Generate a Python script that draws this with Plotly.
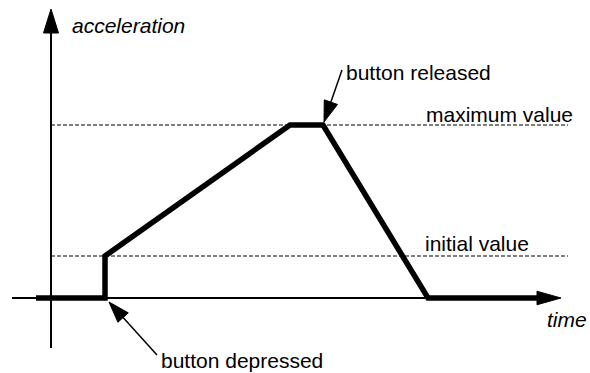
import plotly.graph_objects as go

# acceleration profile (arbitrary units, 1 unit = 10 px in both directions)
time_pts = [-1.5, 5.4, 5.4, 23.9, 27.2, 37.7, 49.0]
accel_pts = [0.0, 0.0, 4.2, 17.3, 17.3, 0.0, 0.0]

initial_value = 4.2
maximum_value = 17.3
ref_line_end = 51.7

x_axis_span = [-3.9, 51.0]   # start, arrow tip
y_axis_span = [-5.0, 28.9]   # bottom, arrow tip

# pointer arrows: (tail_t, tail_a, tip_t, tip_a)
released_arrow = (29.1, 22.8, 27.3, 17.6)
depressed_arrow = (10.6, -5.7, 5.8, -0.4)

W, H = 590, 373
ox, oy, scale = 51, 298, 10.0
x_range = [-ox / scale, (W - ox) / scale]
y_range = [-(H - oy) / scale, oy / scale]

FONT = "Liberation Sans, Arial, sans-serif"


def tri_path(tip_x, tip_y, dx, dy, length, width):
    # filled triangle with tip at (tip_x, tip_y), pointing along (dx, dy)
    n = (dx ** 2 + dy ** 2) ** 0.5
    ux, uy = dx / n, dy / n
    bx, by = tip_x - ux * length, tip_y - uy * length
    px, py = -uy * width / 2, ux * width / 2
    return (f"M {tip_x},{tip_y} L {bx + px},{by + py} "
            f"L {bx - px},{by - py} Z")


def line_shape(x0, y0, x1, y1, width, dash=None):
    d = dict(type="line", xref="x", yref="y", x0=x0, y0=y0, x1=x1, y1=y1,
             line=dict(color="black", width=width))
    if dash:
        d["line"]["dash"] = dash
    return d


def head_shape(path):
    return dict(type="path", xref="x", yref="y", path=path,
                fillcolor="black", line=dict(color="black", width=1))


fig = go.Figure()

shapes = []
# dashed reference lines
shapes.append(line_shape(0, maximum_value, ref_line_end, maximum_value, 1, "4px,2px"))
shapes.append(line_shape(0, initial_value, ref_line_end, initial_value, 1, "4px,2px"))
# axes
h_len, h_wid = 2.4, 1.35
shapes.append(line_shape(x_axis_span[0], 0, x_axis_span[1] - h_len, 0, 2))
shapes.append(head_shape(tri_path(x_axis_span[1], 0, 1, 0, h_len, h_wid)))
shapes.append(line_shape(0, y_axis_span[0], 0, y_axis_span[1] - h_len, 2))
shapes.append(head_shape(tri_path(0, y_axis_span[1], 0, 1, h_len, 1.5)))
# pointer arrows
for tx, ty, px_, py_ in (released_arrow, depressed_arrow):
    shapes.append(line_shape(tx, ty, px_ + (tx - px_) * 0.2, py_ + (ty - py_) * 0.2, 1.5))
    shapes.append(head_shape(tri_path(px_, py_, px_ - tx, py_ - ty, 2.1, 1.4)))

fig.add_trace(
    go.Scatter(
        x=time_pts,
        y=accel_pts,
        mode="lines",
        line=dict(color="black", width=5.5),
        showlegend=False,
        hoverinfo="skip",
    )
)


def label(x, y, text, italic=False, anchor="left"):
    return dict(x=x, y=y, xref="x", yref="y", text=f"<i>{text}</i>" if italic else text,
                showarrow=False, xanchor=anchor, yanchor="middle",
                font=dict(family=FONT, size=21, color="black"))


annotations = [
    label(1.9, 27.3, "acceleration", italic=True),
    label(53.8, -2.1, "time", italic=True, anchor="right"),
    label(29.3, 22.6, "button released"),
    label(37.3, 18.4, "maximum value"),
    label(37.2, 5.5, "initial value"),
    label(10.8, -6.2, "button depressed"),
]

fig.update_layout(
    width=W,
    height=H,
    margin=dict(l=0, r=0, t=0, b=0),
    paper_bgcolor="white",
    plot_bgcolor="white",
    shapes=shapes,
    annotations=annotations,
    xaxis=dict(range=x_range, visible=False, fixedrange=True),
    yaxis=dict(range=y_range, visible=False, fixedrange=True),
)

fig.write_html(
    "out.html",
    config={"displayModeBar": False},
    post_script="document.body.style.margin='0';document.body.style.overflow='hidden';",
)
